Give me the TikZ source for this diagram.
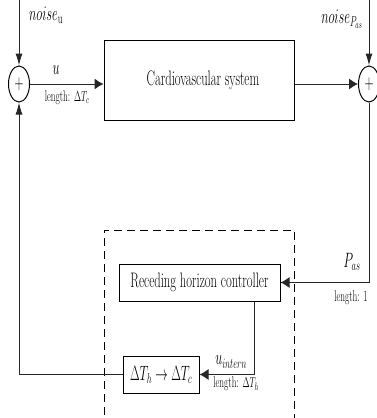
\documentclass[tikz,border=0pt]{standalone}
\usetikzlibrary{shapes.geometric,arrows.meta}
\newcommand{\sq}[1]{\scalebox{0.6}[1]{#1}}
\tikzset{
 every node/.style={font=\fontsize{21}{24}\selectfont, inner sep=0pt},
 block/.style={draw, line width=1pt, rectangle},
 sumnode/.style={draw, ellipse, line width=1pt, minimum width=21pt, minimum height=36pt, inner sep=0pt},
 conn/.style={line width=1pt, draw=black!85},
 harr/.style={-{Latex[length=9pt,width=11pt]}},
 varr/.style={-{Latex[length=12pt,width=7pt]}},
 smalllab/.style={font=\fontsize{15.5}{18}\selectfont},
 dashbox/.style={draw, line width=1pt, dash pattern=on 8pt off 5pt, minimum width=190pt, minimum height=210pt},
}
\begin{document}
\begin{tikzpicture}[x=1pt,y=-1pt]
\useasboundingbox (0,0) rectangle (376,418);
% dashed controller frame
\node[dashbox] (frame) at (199,335) {};
% blocks
\node[sumnode] (sumL) at (19,84) {\sq{$+$}};
\node[sumnode] (sumR) at (369,84) {\sq{$+$}};
\node[block, minimum width=190pt, minimum height=80pt] (cvs) at (199,80) {\hspace*{8pt}\sq{Cardiovascular system}};
\node[block, fill=white, minimum width=161pt, minimum height=37pt] (rhc) at (199.5,282.5) {\sq{Receding horizon controller}};
\node[block, fill=white, minimum width=76pt, minimum height=37pt] (dt) at (161,374.5) {\sq{$\Delta T_h\rightarrow\Delta T_c$}};
% labels
\node (nu) at (46,15) {\sq{$noise_{\mathrm{u}}$}};
\node (np) at (342,19) {\sq{$noise_{P_{as}}$}};
\node (ul) at (56,70) {\sq{$u$}};
\node[smalllab] (lc) at (67,98) {\sq{length: $\Delta T_c$}};
\node (pas) at (352,262) {\sq{$P_{as}$}};
\node[smalllab] (l1) at (351,298) {\sq{length: 1}};
\node (ui) at (231,362) {\sq{$u_{intern}$}};
\node[smalllab] (lh) at (236,384) {\sq{length: $\Delta T_h$}};
% free ends
\coordinate (nuin) at (19,0);
\coordinate (npin) at (369,0);
\coordinate (tap) at (254,0);
% connectors
\draw[conn,varr] (nuin) -- (sumL.north);
\draw[conn,varr] (npin) -- (sumR.north);
\draw[conn,harr] (sumL.east) -- (cvs.west |- sumL.east);
\draw[conn,harr] (cvs.east |- sumR.west) -- (sumR.west);
\draw[conn,harr] (sumR.south) |- (rhc.east);
\draw[conn,harr] (rhc.south -| tap) |- (dt.east);
\draw[conn,varr] (dt.west) -| (sumL.south);
\end{tikzpicture}
\end{document}
